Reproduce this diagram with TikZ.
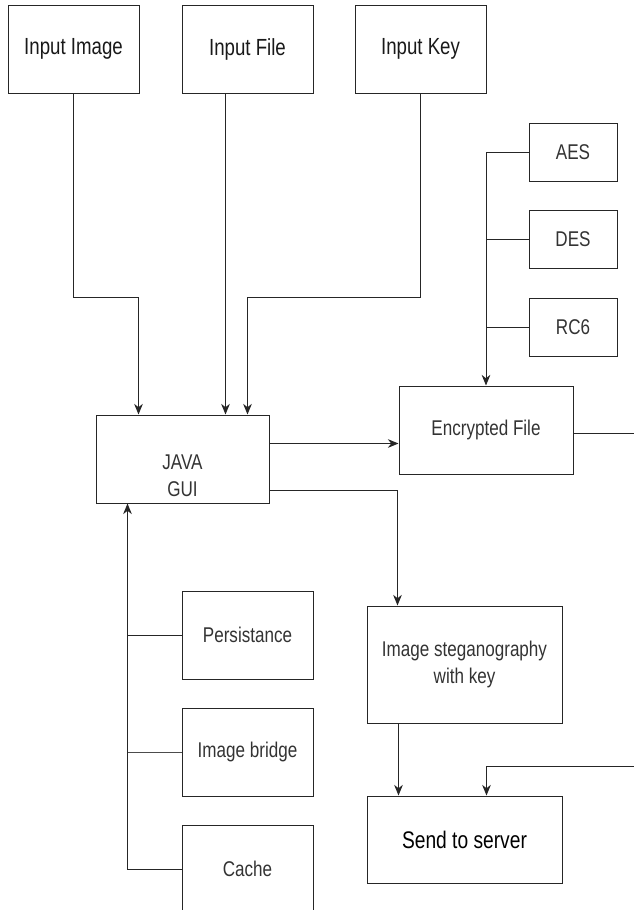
\documentclass[tikz,border=0pt]{standalone}
\usepackage{fontspec}
\setmainfont{Liberation Sans}[FakeStretch=0.8]
\usetikzlibrary{arrows.meta}
\usetikzlibrary{calc}

\begin{document}
\begin{tikzpicture}[x=0.75pt, y=-0.75pt, line width=0.75pt,
    txt/.style={align=center, text=black!80, font=\fontsize{16}{20}\selectfont},
    box/.style={txt, rectangle, draw=black!85, inner sep=0pt},
    inbox/.style={box, minimum width=98.25pt, minimum height=66pt, text=black!90, font=\fontsize{17.5}{21}\selectfont},
    algbox/.style={box, minimum width=66pt, minimum height=43.5pt},
    sidebox/.style={box, minimum width=98.25pt, minimum height=66pt},
    arr/.style={draw=black!85, -{Stealth[length=8pt, width=6.5pt]}}]

  \useasboundingbox (0,0) rectangle (633,910);

  \node[inbox] (img) at (73.5, 49) {Input Image};

  \node[inbox] (file) at (247.5, 49) {Input File};

  \node[inbox] (key) at (420.5, 49) {Input Key};

  \node[box, minimum width=129.75pt, minimum height=66pt,
    label={[txt, yshift=-12.75pt]center:{JAVA\\GUI}}] (gui) at (182.5, 459) {};

  \node[box, minimum width=130.5pt, minimum height=66pt] (enc) at (486, 430) {Encrypted File};

  \node[algbox] (aes) at (573, 152) {AES};
  \node[algbox] (des) at (573, 239.5) {DES};
  \node[algbox] (rc6) at (573, 327.5) {RC6};

  \node[box, minimum width=146.25pt, minimum height=87.75pt] (steg) at (464.5, 664.5) {Image steganography\\with key};

  \node[box, minimum width=146.25pt, minimum height=65.25pt, text=black, font=\fontsize{18}{21}\selectfont] (send) at (464.5, 839.5) {Send to server};

  \node[sidebox] (pers) at (247.5, 635) {Persistance};
  \node[sidebox] (bridge) at (247.5, 752) {Image bridge};
  \node[sidebox] (cache) at (247.5, 869) {Cache};

  \coordinate (bus) at ($(gui.south west)+(32,0)$);

  \draw[arr] (img.south) -- ++(0,204) -| ($(gui.north west)+(43,0)$);
  \draw[arr] ($(file.south west)+(44,0)$) -- ($(gui.north west)+(130,0)$);
  \draw[arr] (key.south) -- ++(0,204) -| ($(gui.north west)+(152,0)$);

  \draw[arr] ($(gui.north east)+(0,29)$) -- ($(enc.north west)+(0,58)$);
  \draw[arr] ($(gui.south east)+(0,-13)$) -| ($(steg.north west)+(31,0)$);

  \draw[arr] (aes.west) -| (enc.north);
  \draw[draw=black!85] (des.west) -- (des.west -| enc.north);
  \draw[draw=black!85] (rc6.west) -- (rc6.west -| enc.north);

  \draw[arr] ($(steg.south west)+(32,0)$) -- ($(send.north west)+(32,0)$);
  \draw[arr] ($(enc.north east)+(0,48)$) -- ++(75,0) |- ($(send.north west)+(120,-29)$) -- ($(send.north west)+(120,0)$);

  \draw[arr] (cache.west) -| (bus);
  \draw[draw=black!85] (pers.west) -- (pers.west -| bus);
  \draw[draw=black!70] (bridge.west) -- (bridge.west -| bus);
\end{tikzpicture}
\end{document}
